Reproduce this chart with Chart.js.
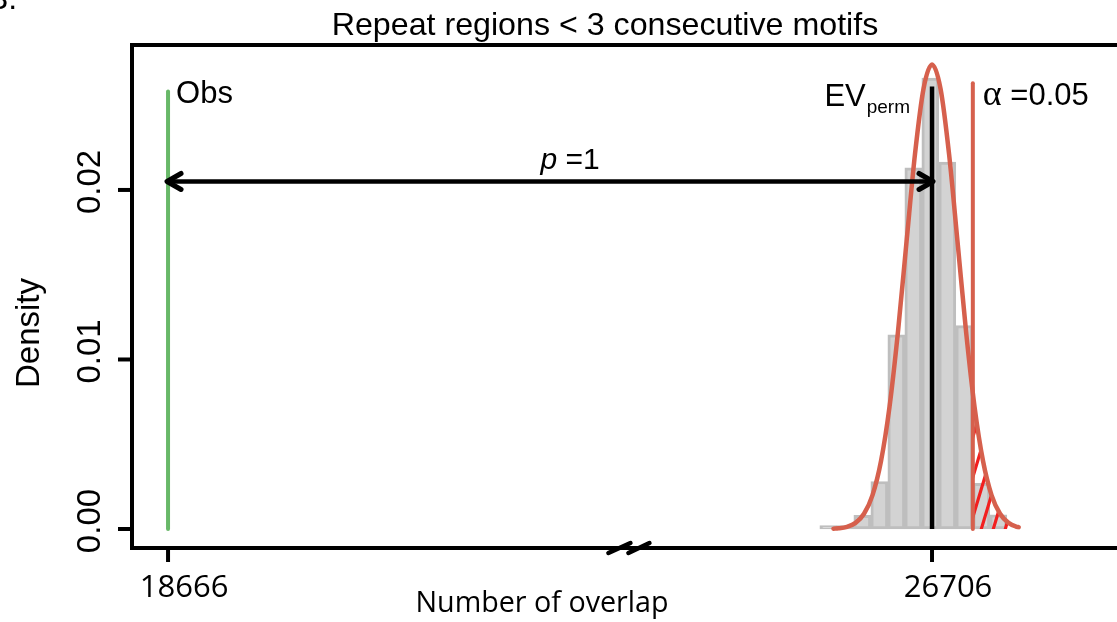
<!DOCTYPE html>
<html><head><meta charset="utf-8">
<script src="https://cdn.jsdelivr.net/npm/chart.js@4.4.1/dist/chart.umd.min.js"></script>
<style>
html,body{margin:0;padding:0;background:#fff;overflow:hidden;width:1117px;height:622px}
canvas{display:block}
</style></head>
<body><canvas id="c" width="1200" height="622"></canvas>
<script>
// ---------- texts ----------
const chartTitle = 'Repeat regions < 3 consecutive motifs';
const xTitle = 'Number of overlap';
const yTitle = 'Density';
const panelTag = 'B.';

// ---------- histogram of permuted overlaps (bin width 10) ----------
const binCenters = [26645, 26655, 26665, 26675, 26685, 26695, 26705, 26715, 26725, 26735, 26745];
const binDensity = [0.0002, 0.0002, 0.0008, 0.0028, 0.01145, 0.0213, 0.0266, 0.02165, 0.0120, 0.0027, 0.00083];

// ---------- fitted normal curve ----------
const curveX = [26648, 26651, 26656, 26661, 26666, 26671, 26676, 26681, 26686, 26691, 26696, 26701, 26706,
                26711, 26716, 26721, 26726, 26731, 26736, 26741, 26746, 26751, 26756, 26757];
const curveY = [0.00002, 0.00004, 0.00013, 0.00036, 0.00090, 0.00200, 0.00401, 0.00721, 0.01166, 0.01694, 0.02213, 0.02597, 0.02740,
                0.02597, 0.02213, 0.01694, 0.01166, 0.00721, 0.00401, 0.00200, 0.00090, 0.00036, 0.00013, 0.00011];

// ---------- upper tail beyond alpha (hatched) ----------
const tailX = [26730, 26731, 26736, 26741, 26746, 26751, 26756, 26757];
const tailY = [0.00800, 0.00721, 0.00401, 0.00200, 0.00090, 0.00036, 0.00013, 0.00011];

// ---------- reference lines ----------
const obsValue = 18666, evValue = 26706, alphaValue = 26730;
const obsTop = 0.0258, evTop = 0.0261, alphaTop = 0.0263;
const arrowLevel = 0.0205;
const pLabel = '1';
const alphaLabel = '0.05';

// ---------- axes ----------
const xTickValues = [18666, 26706];
const xTickLabels = ['18666', '26706'];
const yTickValues = [0, 0.01, 0.02];
const yTickLabels = ['0.00', '0.01', '0.02'];

// broken x axis: values left of the break are shifted next to the permutation range
const BREAK_AT = 26000;
const BREAK_SHIFT = 7590.6;
const BREAK_MARK = 26528;
const toAxis = v => (v < BREAK_AT ? v + BREAK_SHIFT : v);

const RED = '#d6604d';
const GREEN = '#68b868';
const SANS = "'Liberation Sans', Arial, sans-serif";

function makeHatch() {
  const w = 12, h = 40;
  const c = document.createElement('canvas');
  c.width = w; c.height = h;
  const g = c.getContext('2d');
  g.strokeStyle = '#f21f1f';
  g.lineWidth = 3.2;
  g.beginPath();
  for (const s of [-w, 0, w]) {
    g.moveTo(-w + s, 2 * h); g.lineTo(2 * w + s, -h);
  }
  g.stroke();
  return g.createPattern(c, 'repeat');
}

const decor = {
  id: 'decor',
  afterDraw(chart) {
    const ctx = chart.ctx, ca = chart.chartArea;
    const xs = chart.scales.x, ys = chart.scales.y;
    ctx.save();
    ctx.strokeStyle = '#000';
    ctx.fillStyle = '#000';
    ctx.lineWidth = 4;
    ctx.lineJoin = 'miter';
    ctx.lineCap = 'butt';
    // box
    ctx.strokeRect(ca.left, ca.top, ca.right - ca.left, ca.bottom - ca.top);

    // y ticks
    ctx.font = '33px ' + SANS;
    yTickValues.forEach((v, i) => {
      const py = ys.getPixelForValue(v);
      ctx.beginPath(); ctx.moveTo(ca.left, py); ctx.lineTo(ca.left - 14, py); ctx.stroke();
      ctx.save();
      ctx.translate(100, py - 8);
      ctx.rotate(-Math.PI / 2);
      ctx.textAlign = 'center'; ctx.textBaseline = 'alphabetic';
      ctx.fillText(yTickLabels[i], 0, 0);
      ctx.restore();
    });
    // y title
    ctx.save();
    ctx.translate(39, 333);
    ctx.rotate(-Math.PI / 2);
    ctx.textAlign = 'center';
    ctx.font = '33px ' + SANS;
    ctx.fillText(yTitle, 0, 0);
    ctx.restore();

    // x ticks
    ctx.font = "31px 'Open Sans', sans-serif";
    ctx.textAlign = 'center';
    xTickValues.forEach((v, i) => {
      const px = xs.getPixelForValue(toAxis(v));
      ctx.beginPath(); ctx.moveTo(px, ca.bottom); ctx.lineTo(px, ca.bottom + 14); ctx.stroke();
      ctx.fillText(xTickLabels[i], px + 16, 597);
    });
    // x title
    ctx.font = "28.7px 'Open Sans', sans-serif";
    ctx.fillText(xTitle, 542, 612);

    // axis break mark
    const bx = xs.getPixelForValue(BREAK_MARK);
    const by = ca.bottom;
    ctx.lineWidth = 4.5;
    ctx.lineCap = 'round';
    ctx.beginPath();
    ctx.moveTo(bx - 21, by + 5); ctx.lineTo(bx + 1, by - 5);
    ctx.moveTo(bx - 1, by + 5); ctx.lineTo(bx + 20, by - 5);
    ctx.stroke();

    // title
    ctx.font = '32.2px ' + SANS;
    ctx.textAlign = 'center';
    ctx.fillText(chartTitle, 605, 35);
    // panel tag (cropped)
    ctx.textAlign = 'left';
    ctx.font = '32px ' + SANS;
    ctx.fillText(panelTag, -13, 9);

    // arrow heads
    const ay = ys.getPixelForValue(arrowLevel);
    const ax1 = xs.getPixelForValue(toAxis(obsValue)) - 1;
    const ax2 = xs.getPixelForValue(toAxis(evValue)) + 1;
    ctx.lineWidth = 5; ctx.lineCap = 'round'; ctx.lineJoin = 'round';
    ctx.beginPath();
    ctx.moveTo(ax1 + 14, ay - 8); ctx.lineTo(ax1, ay); ctx.lineTo(ax1 + 14, ay + 8);
    ctx.moveTo(ax2 - 14, ay - 8); ctx.lineTo(ax2, ay); ctx.lineTo(ax2 - 14, ay + 8);
    ctx.stroke();

    // p label
    ctx.textAlign = 'left';
    ctx.font = 'italic 30px ' + SANS;
    const pW = ctx.measureText('p').width;
    ctx.font = '30px ' + SANS;
    const restTxt = ' =' + pLabel;
    const rW = ctx.measureText(restTxt).width;
    const pcx = 570, pStart = pcx - (pW + rW) / 2;
    ctx.font = 'italic 30px ' + SANS;
    ctx.fillText('p', pStart, ay - 12);
    ctx.font = '30px ' + SANS;
    ctx.fillText(restTxt, pStart + pW, ay - 12);

    // Obs label
    const ox = xs.getPixelForValue(toAxis(obsValue));
    const oy = ys.getPixelForValue(obsTop);
    ctx.font = '31px ' + SANS;
    ctx.fillText('Obs', ox + 8, oy + 11);

    // EV_perm label
    const ex = xs.getPixelForValue(evValue);
    const ey = ys.getPixelForValue(evTop);
    ctx.textAlign = 'right';
    ctx.font = '19px ' + SANS;
    const subW = ctx.measureText('perm').width;
    ctx.fillText('perm', ex - 22, ey + 26);
    ctx.font = '31px ' + SANS;
    ctx.fillText('EV', ex - 22 - subW - 1, ey + 19);

    // alpha label
    const alx = xs.getPixelForValue(alphaValue);
    const aly = ys.getPixelForValue(alphaTop);
    ctx.textAlign = 'left';
    ctx.font = "36px 'Liberation Serif', serif";
    ctx.fillText('\u03B1', alx + 10, aly + 22);
    const aW = ctx.measureText('\u03B1').width;
    ctx.font = '31px ' + SANS;
    ctx.fillText(' =' + alphaLabel, alx + 10 + aW, aly + 22);

    ctx.restore();
  }
};

const ctx = document.getElementById('c').getContext('2d');
const vline = (v, top) => [{ x: toAxis(v), y: 0 }, { x: toAxis(v), y: top }];

new Chart(ctx, {
  type: 'bar',
  data: {
    datasets: [
      { type: 'line', label: 'arrow', data: [{ x: toAxis(obsValue), y: arrowLevel }, { x: toAxis(evValue), y: arrowLevel }],
        borderColor: '#000', borderWidth: 4.5, pointRadius: 0, order: 0 },
      { type: 'line', label: 'EV', data: vline(evValue, evTop), borderColor: '#000', borderWidth: 4.5,
        pointRadius: 0, borderCapStyle: 'butt', order: 1 },
      { type: 'line', label: 'alpha', data: vline(alphaValue, alphaTop), borderColor: RED, borderWidth: 4,
        pointRadius: 0, borderCapStyle: 'round', order: 1 },
      { type: 'line', label: 'Obs', data: vline(obsValue, obsTop), borderColor: GREEN, borderWidth: 4,
        pointRadius: 0, borderCapStyle: 'round', order: 1 },
      { type: 'line', label: 'normal', data: curveX.map((x, i) => ({ x, y: curveY[i] })), borderColor: RED,
        borderWidth: 4.5, pointRadius: 0, cubicInterpolationMode: 'monotone', borderCapStyle: 'round', order: 2 },
      { type: 'line', label: 'tail', data: tailX.map((x, i) => ({ x, y: tailY[i] })), borderWidth: 0,
        backgroundColor: makeHatch(), fill: 'origin', pointRadius: 0, cubicInterpolationMode: 'monotone', order: 3 },
      { type: 'bar', label: 'hist', data: binCenters.map((x, i) => ({ x, y: binDensity[i] })),
        backgroundColor: '#d3d3d3', borderColor: '#bebebe', borderWidth: 3, borderSkipped: false,
        barPercentage: 1, categoryPercentage: 1, grouped: false, order: 4 }
    ]
  },
  options: {
    responsive: false,
    animation: false,
    layout: { padding: { left: 132, top: 45, right: 40, bottom: 74 } },
    plugins: { legend: { display: false }, tooltip: { enabled: false }, title: { display: false } },
    scales: {
      x: { type: 'linear', display: false, min: 26235.4, max: 26840.1, offset: false },
      y: { type: 'linear', display: false, min: -0.00112, max: 0.02855 }
    }
  },
  plugins: [decor]
});
</script>
</body></html>
